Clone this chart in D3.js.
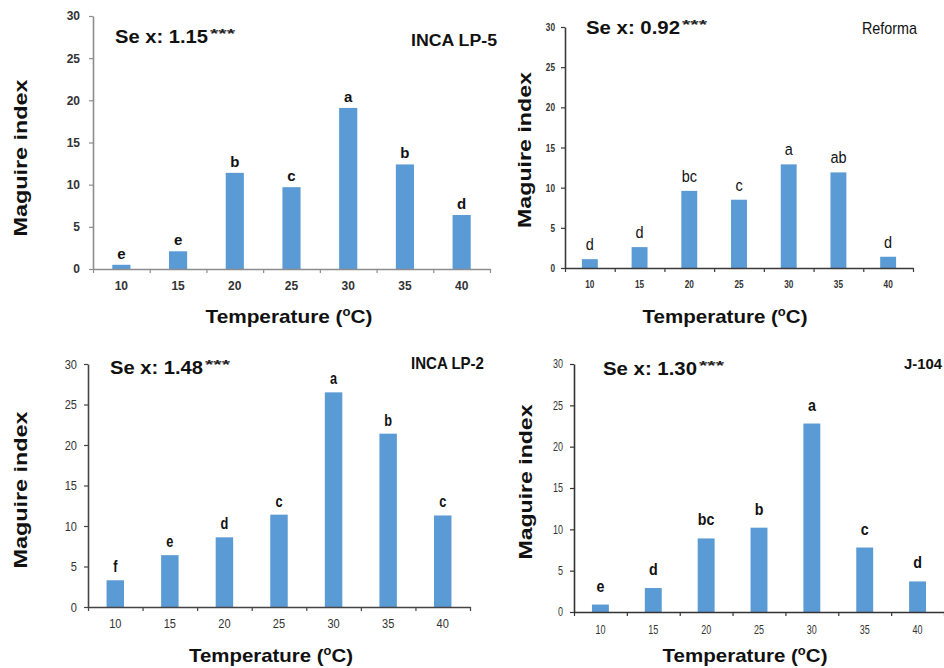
<!DOCTYPE html>
<html>
<head>
<meta charset="utf-8">
<script src="https://cdn.jsdelivr.net/npm/d3@7"></script>
<style>
  body { margin: 0; background: #fff; }
  svg { display: block; font-family: "Liberation Sans", Arial, sans-serif; }
</style>
</head>
<body>
<svg id="chart" width="944" height="668"></svg>
<script>
// temperatures (categories) and y ticks
var temps = [10, 15, 20, 25, 30, 35, 40];
var yTicks = [0, 5, 10, 15, 20, 25, 30];

// Maguire index per cultivar
var incaLP5 = [0.5, 2.1, 11.4, 9.7, 19.1, 12.4, 6.4];
var reforma = [1.1, 2.6, 9.6, 8.5, 12.9, 11.9, 1.4];
var incaLP2 = [3.3, 6.4, 8.6, 11.4, 26.5, 21.4, 11.3];
var j104    = [0.9, 2.9, 8.9, 10.2, 22.8, 7.8, 3.7];

// significance letters
var lettersLP5 = ["e", "e", "b", "c", "a", "b", "d"];
var lettersRef = ["d", "d", "bc", "c", "a", "ab", "d"];
var lettersLP2 = ["f", "e", "d", "c", "a", "b", "c"];
var lettersJ   = ["e", "d", "bc", "b", "a", "c", "d"];

var titles = ["INCA LP-5", "Reforma", "INCA LP-2", "J-104"];
var seValues = ["1.15", "0.92", "1.48", "1.30"];

var barColor = "#5b9bd5";

// layout of the four panels
var panels = [
  {vals: incaLP5, letters: lettersLP5, title: titles[0], se: seValues[0],
   x0: 93, x1: 490, yTop: 16, yBot: 269, axis: "#8c8c8c",
   tickFont: {size: 12, weight: "bold", sx: 1}, yLabOff: 13, xLabY: 21,
   letFont: {size: 15, weight: "bold", sx: 1}, letGap: 6,
   titleFont: {size: 16, weight: "bold", x: 411, y: 46, len: 86},
   seX: 115, seY: 43, seLen: 93, yLab: {x: 27, cy: 158, len: 157}, xLab: {cx: 289, y: 323, len: 167}},
  {vals: reforma, letters: lettersRef, title: titles[1], se: seValues[1],
   x0: 565, x1: 913, yTop: 27, yBot: 268, axis: "#3a3a3a",
   tickFont: {size: 11, weight: "bold", sx: 0.75}, yLabOff: 10, xLabY: 20,
   letFont: {size: 17, weight: "normal", sx: 0.85}, letGap: 9,
   titleFont: {size: 17, weight: "normal", x: 862, y: 34, len: 55},
   seX: 586, seY: 34, seLen: 94, yLab: {x: 531, cy: 150, len: 156}, xLab: {cx: 725, y: 323, len: 165}},
  {vals: incaLP2, letters: lettersLP2, title: titles[2], se: seValues[2],
   x0: 88, x1: 470, yTop: 364, yBot: 607, axis: "#444",
   tickFont: {size: 13, weight: "normal", sx: 0.85}, yLabOff: 11, xLabY: 21,
   letFont: {size: 17, weight: "bold", sx: 0.75}, letGap: 8,
   titleFont: {size: 17, weight: "bold", x: 411, y: 369, len: 73},
   seX: 110, seY: 374, seLen: 93, yLab: {x: 27, cy: 490, len: 157}, xLab: {cx: 271, y: 662, len: 164}},
  {vals: j104, letters: lettersJ, title: titles[3], se: seValues[3],
   x0: 574, x1: 944, yTop: 364, yBot: 612, axis: "#333",
   tickFont: {size: 12, weight: "normal", sx: 0.75}, yLabOff: 11, xLabY: 22,
   letFont: {size: 17, weight: "bold", sx: 0.84}, letGap: 13,
   titleFont: {size: 14, weight: "bold", x: 904, y: 369, len: 38},
   seX: 603, seY: 375, seLen: 94, yLab: {x: 532, cy: 482, len: 155}, xLab: {cx: 745, y: 662, len: 165}}
];

var svg = d3.select("#chart");

function drawPanel(p) {
  var g = svg.append("g");

  var x = d3.scaleBand().domain(temps).range([p.x0, p.x1])
    .paddingInner(0.68).paddingOuter(0.34);
  var y = d3.scaleLinear().domain([0, 30]).range([p.yBot, p.yTop]);
  var xb = d3.scaleLinear().domain([0, temps.length]).range([p.x0, p.x1]);

  // bars
  g.selectAll("rect.bar").data(p.vals).enter().append("rect")
    .attr("class", "bar")
    .attr("x", function(d, i) { return x(temps[i]); })
    .attr("width", x.bandwidth())
    .attr("y", function(d) { return y(d); })
    .attr("height", function(d) { return y(0) - y(d); })
    .attr("fill", barColor);

  // y axis
  var ya = g.append("g").attr("transform", "translate(" + p.x0 + ",0)")
    .call(d3.axisLeft(y).tickValues(yTicks).tickSize(4).tickSizeOuter(0));
  ya.select(".domain").attr("stroke", p.axis).attr("stroke-width", 1.6);
  ya.selectAll(".tick line").attr("stroke", p.axis).attr("stroke-width", 1.2);
  ya.selectAll(".tick text")
    .attr("x", -p.yLabOff / p.tickFont.sx)
    .attr("transform", "scale(" + p.tickFont.sx + ",1)")
    .attr("fill", "#333")
    .style("font-size", p.tickFont.size + "px")
    .style("font-weight", p.tickFont.weight)
    .style("font-family", "'Liberation Sans', Arial, sans-serif");

  // x axis line with boundary ticks
  var xa = g.append("g").attr("transform", "translate(0," + p.yBot + ")")
    .call(d3.axisBottom(xb).tickValues(d3.range(temps.length + 1)).tickSize(4).tickSizeOuter(0).tickFormat(""));
  xa.select(".domain").attr("stroke", p.axis).attr("stroke-width", 1.6);
  xa.selectAll(".tick line").attr("stroke", p.axis).attr("stroke-width", 1.2);

  // x category labels
  var xl = g.append("g").attr("transform", "translate(0," + p.yBot + ")")
    .call(d3.axisBottom(x).tickSize(0));
  xl.select(".domain").remove();
  xl.selectAll(".tick text")
    .attr("y", p.xLabY).attr("dy", 0)
    .attr("transform", "scale(" + p.tickFont.sx + ",1)")
    .attr("fill", "#333")
    .style("font-size", p.tickFont.size + "px")
    .style("font-weight", p.tickFont.weight)
    .style("font-family", "'Liberation Sans', Arial, sans-serif");

  // significance letters
  g.selectAll("text.let").data(p.letters).enter().append("text")
    .attr("class", "let")
    .attr("transform", function(d, i) {
      return "translate(" + (x(temps[i]) + x.bandwidth() / 2) + "," + (y(p.vals[i]) - p.letGap) + ") scale(" + p.letFont.sx + ",1)";
    })
    .attr("text-anchor", "middle")
    .style("font-size", p.letFont.size + "px")
    .style("font-weight", p.letFont.weight)
    .attr("fill", "#111")
    .text(function(d) { return d; });

  // cultivar title
  g.append("text")
    .attr("x", p.titleFont.x).attr("y", p.titleFont.y)
    .attr("textLength", p.titleFont.len).attr("lengthAdjust", "spacingAndGlyphs")
    .style("font-size", p.titleFont.size + "px")
    .style("font-weight", p.titleFont.weight)
    .attr("fill", "#111")
    .text(p.title);

  // Se x annotation
  g.append("text")
    .attr("x", p.seX).attr("y", p.seY)
    .attr("textLength", p.seLen).attr("lengthAdjust", "spacingAndGlyphs")
    .style("font-size", "18px").style("font-weight", "bold")
    .attr("fill", "#111")
    .text("Se x: " + p.se);
  g.append("text")
    .attr("x", p.seX + p.seLen + 2).attr("y", p.seY - 5)
    .attr("textLength", 25).attr("lengthAdjust", "spacingAndGlyphs")
    .style("font-size", "13px").style("font-weight", "bold")
    .attr("fill", "#222")
    .text("***");

  // axis titles
  g.append("text")
    .attr("transform", "translate(" + p.yLab.x + "," + p.yLab.cy + ") rotate(-90)")
    .attr("text-anchor", "middle")
    .attr("textLength", p.yLab.len).attr("lengthAdjust", "spacingAndGlyphs")
    .style("font-size", "19px").style("font-weight", "bold")
    .attr("fill", "#111")
    .text("Maguire index");

  var xt = g.append("text")
    .attr("x", p.xLab.cx - p.xLab.len / 2).attr("y", p.xLab.y)
    .attr("textLength", p.xLab.len).attr("lengthAdjust", "spacingAndGlyphs")
    .style("font-size", "19px").style("font-weight", "bold")
    .attr("fill", "#111");
  xt.append("tspan").text("Temperature (");
  xt.append("tspan").attr("dy", -7).style("font-size", "12px").text("o");
  xt.append("tspan").attr("dy", 7).text("C)");
}

panels.forEach(drawPanel);
</script>
</body>
</html>
